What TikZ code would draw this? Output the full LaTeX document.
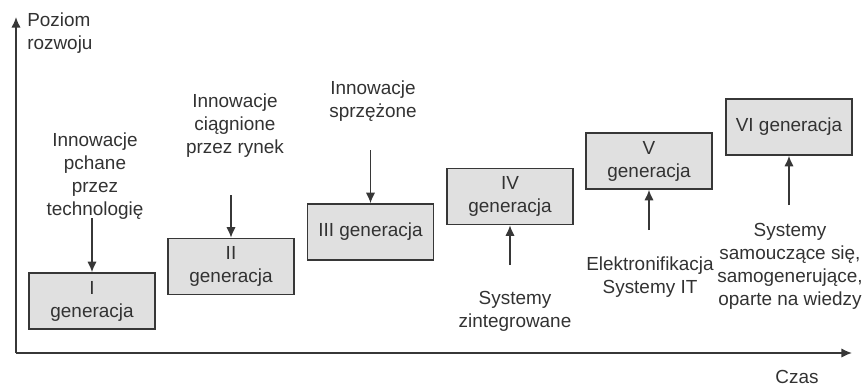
\documentclass[tikz,border=0pt]{standalone}
\usepackage{fontspec}
\setmainfont{Liberation Sans}
\usetikzlibrary{positioning,arrows.meta}
\definecolor{boxgray}{RGB}{224,224,224}
\definecolor{linegray}{RGB}{55,55,55}
\definecolor{textgray}{RGB}{50,50,50}
\tikzset{
	gen/.style={draw=linegray, line width=1.1pt, fill=boxgray, minimum width=94.5pt, minimum height=42pt, align=center, inner sep=2pt},
	opis/.style={align=center, inner sep=0pt},
	strz/.style={-{Latex[length=8pt,width=7pt]}, line width=1.1pt, draw=linegray}
}

\begin{document}
\begin{tikzpicture}[x=0.75pt, y=-0.75pt, text=textgray, font=\fontsize{14.2}{17.25}\selectfont]
	\useasboundingbox (0,0) rectangle (865,387);
	% osie
	\coordinate (o) at (16,353);
	\coordinate (ykon) at (16,17);
	\coordinate (xkon) at (852,353);
	\draw [strz] (o) -- (ykon);
	\draw [strz] (o) -- (xkon);
	\node [opis, anchor=west, align=left] (poziom) at (27,33.5) {Poziom\\rozwoju};
	\node [opis] (czas) at (797,377) {Czas};
	% generacje
	\node [gen] (g1) at (92,301) {I\\generacja};
	\node [gen] (g2) at (231,266.5) {II\\generacja};
	\node [gen] (g3) at (370.5,232) {III generacja};
	\node [gen] (g4) at (510,196.5) {IV\\generacja};
	\node [gen] (g5) at (649,161) {V\\generacja};
	\node [gen] (g6) at (789,127) {VI generacja};
	% opisy
	\node [opis] (o1) at (95,176.5) {Innowacje\\pchane\\przez\\technologię};
	\node [opis] (o2) at (235,126) {Innowacje\\ciągnione\\przez rynek};
	\node [opis] (o3) at (373,101.5) {Innowacje\\sprzężone};
	\node [opis] (o4) at (515,311.5) {Systemy\\zintegrowane};
	\node [opis] (o5) at (650,277.5) {Elektronifikacja\\Systemy IT};
	\node [opis] (o6) at (790,266) {Systemy\\samouczące się,\\samogenerujące,\\oparte na wiedzy};
	% strzalki
	\coordinate (s1) at (92,218);
	\coordinate (s2) at (231,195);
	\coordinate (s3) at (370.5,150);
	\coordinate (s4) at (510,265);
	\coordinate (s5) at (649,230);
	\coordinate (s6) at (789,205);
	\draw [strz] (s1) -- (g1);
	\draw [strz] (s2) -- (g2);
	\draw [strz] (s3) -- (g3);
	\draw [strz] (s4) -- (g4);
	\draw [strz] (s5) -- (g5);
	\draw [strz] (s6) -- (g6);
\end{tikzpicture}
\end{document}
